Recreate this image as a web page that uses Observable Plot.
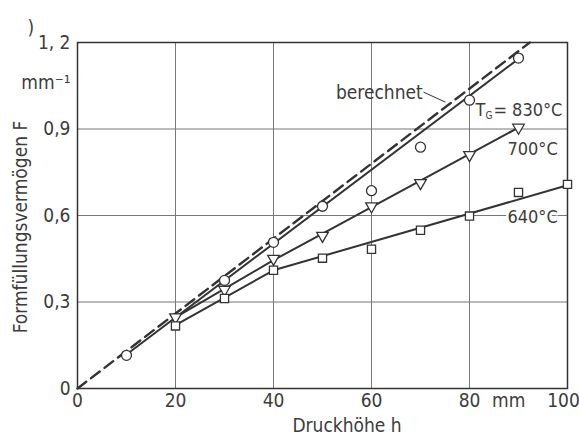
<!DOCTYPE html>
<html>
<head>
<meta charset="utf-8">
<script src="https://cdn.jsdelivr.net/npm/d3@7"></script>
<script src="https://cdn.jsdelivr.net/npm/@observablehq/plot@0.6"></script>
<style>
  html, body { margin: 0; padding: 0; background: #ffffff; }
  #chart svg { display: block; }
  #chart svg text { font-family: 'DejaVu Sans', sans-serif; font-stretch: condensed; }
</style>
</head>
<body>
<div id="chart"></div>
<script>
// ---- data ----
const h830 = [10, 30, 40, 50, 60, 70, 80, 90];
const F830 = [0.115, 0.375, 0.507, 0.632, 0.686, 0.837, 1.0, 1.146];
const h700 = [20, 30, 40, 50, 60, 70, 80, 90];
const F700 = [0.247, 0.343, 0.45, 0.53, 0.632, 0.713, 0.81, 0.905];
const h640 = [20, 30, 40, 50, 60, 70, 80, 90, 100];
const F640 = [0.217, 0.312, 0.41, 0.452, 0.483, 0.549, 0.598, 0.68, 0.708];
// drawn curves (vertices)
const fit830h = [10, 90], fit830F = [0.118, 1.143];
const fit700h = [20, 40, 90], fit700F = [0.247, 0.445, 0.905];
const fit640h = [20, 40, 100], fit640F = [0.22, 0.41, 0.705];
const calcH = [0, 92.3], calcF = [0, 1.2];
const xTicks = [0, 20, 40, 60, 80];
const xLastTick = [100];
const yTicks = [0, 0.3, 0.6, 0.9, 1.2];
const xUnitPos = 88, yUnitPos = 1.06;

const zip = (xs, ys) => xs.map((x, i) => ({x, y: ys[i]}));
const ink = "#333";
const txt = "#3c3c3c";
const font = "'DejaVu Sans', sans-serif";

const chart = Plot.plot({
  width: 579,
  height: 435,
  marginLeft: 77,
  marginRight: 12,
  marginTop: 42,
  marginBottom: 47,
  style: {fontFamily: font, background: "#ffffff", color: txt},
  x: {domain: [0, 100]},
  y: {domain: [0, 1.2]},
  marks: [
    Plot.gridX([20, 40, 60, 80], {stroke: "#777", strokeOpacity: 1, strokeWidth: 1}),
    Plot.gridY([0.3, 0.6, 0.9], {stroke: "#777", strokeOpacity: 1, strokeWidth: 1}),
    Plot.frame({stroke: ink, strokeWidth: 1.5}),
    Plot.axisX([...xTicks, xUnitPos], {tickSize: 0, tickPadding: 5, fontSize: 19, fill: txt,
      tickFormat: d => d === xUnitPos ? "mm" : String(d), label: null}),
    Plot.axisX(xLastTick, {tickSize: 0, tickPadding: 5, fontSize: 19, fill: txt, dx: -4,
      tickFormat: d => String(d), label: null}),
    Plot.axisY([...yTicks, yUnitPos], {tickSize: 0, tickPadding: 7, fontSize: 19, fill: txt,
      tickFormat: d => d === yUnitPos ? "mm⁻¹" : (d === 1.2 ? "1, 2" : String(d).replace(".", ",")), label: null}),
    // berechnet (dashed)
    Plot.line(zip(calcH, calcF), {x: "x", y: "y", stroke: ink, strokeWidth: 2.4, strokeDasharray: "11,6"}),
    Plot.line(zip(fit830h, fit830F), {x: "x", y: "y", stroke: ink, strokeWidth: 2}),
    Plot.line(zip(fit700h, fit700F), {x: "x", y: "y", stroke: ink, strokeWidth: 2}),
    Plot.line(zip(fit640h, fit640F), {x: "x", y: "y", stroke: ink, strokeWidth: 2}),
    Plot.dot(zip(h830, F830), {x: "x", y: "y", symbol: "circle", r: 5, fill: "white", stroke: ink, strokeWidth: 1.3}),
    Plot.dot(zip(h700, F700), {x: "x", y: "y", symbol: "triangle", r: 4.3, fill: "white", stroke: ink, strokeWidth: 1.3, rotate: 180}),
    Plot.dot(zip(h640, F640), {x: "x", y: "y", symbol: "square", r: 4.6, fill: "white", stroke: ink, strokeWidth: 1.3}),
    // annotations
    Plot.text(["berechnet"], {x: 61.6, y: 1.024, text: d => d, fontSize: 19, fill: txt}),
    Plot.link([{x1: 70.6, y1: 1.028, x2: 75.1, y2: 0.993}], {x1: "x1", y1: "y1", x2: "x2", y2: "y2", stroke: ink, strokeWidth: 1}),
    Plot.text(["T"], {x: 81.2, y: 0.965, text: d => d, textAnchor: "start", fontSize: 18, fill: txt}),
    Plot.text(["G"], {x: 81.2, y: 0.965, text: d => d, textAnchor: "start", fontSize: 10, dx: 10, dy: 6, fill: txt}),
    Plot.text(["= 830°C"], {x: 81.2, y: 0.965, text: d => d, textAnchor: "start", fontSize: 18, dx: 18, fill: txt}),
    Plot.text(["700°C"], {x: 98, y: 0.83, text: d => d, textAnchor: "end", fontSize: 18, fill: txt}),
    Plot.text(["640°C"], {x: 98, y: 0.594, text: d => d, textAnchor: "end", fontSize: 18, fill: txt, stroke: "white", strokeWidth: 5}),
    // axis titles
    Plot.text(["Druckhöhe h"], {frameAnchor: "bottom", x: 55, dy: 37, lineAnchor: "middle", textAnchor: "middle", text: d => d, fontSize: 19, fill: txt}),
    Plot.text(["Formfüllungsvermögen F"], {frameAnchor: "left", y: 0.56, dx: -57, rotate: -90, textAnchor: "middle", lineAnchor: "middle", text: d => d, fontSize: 19, fill: txt}),
    Plot.text([")"], {frameAnchor: "top-left", dx: -50, dy: -22, text: d => d, fontSize: 19, fill: txt})
  ]
});
document.getElementById("chart").appendChild(chart);
</script>
</body>
</html>
